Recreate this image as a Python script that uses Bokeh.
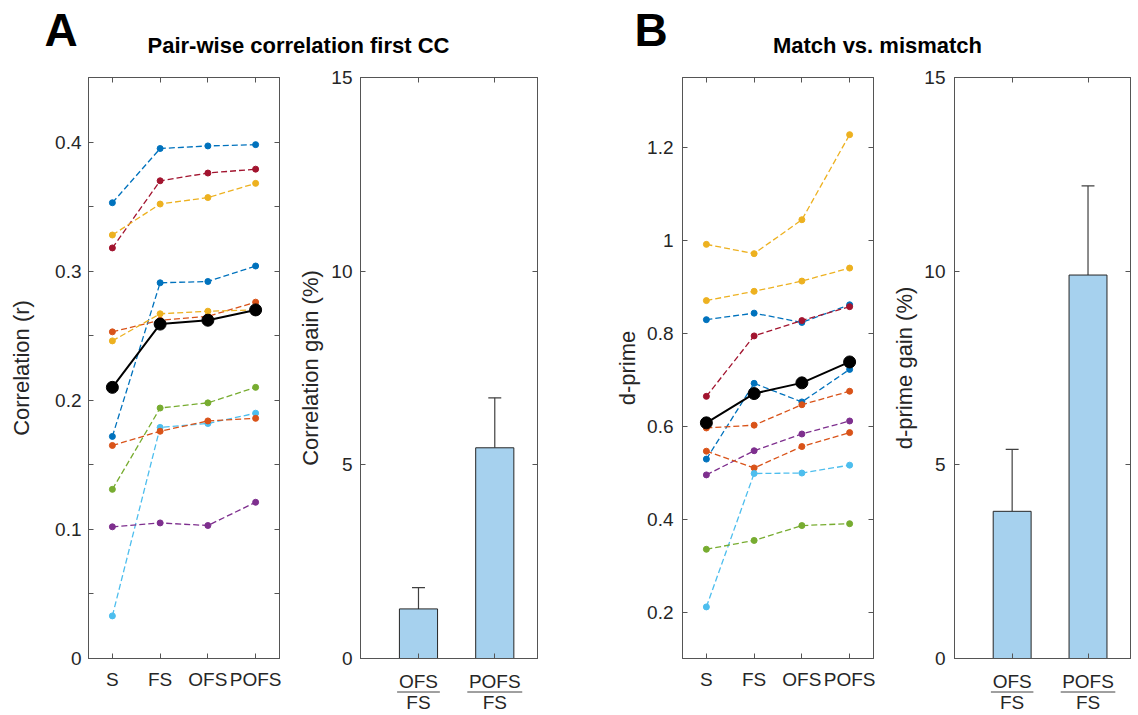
from bokeh.plotting import figure
from bokeh.layouts import row, column
from bokeh.models import Range1d, LinearAxis, FixedTicker
from bokeh.core.properties import value
from bokeh.embed import file_html
from bokeh.resources import INLINE

# ---------------- data ----------------
conditions = ["S", "FS", "OFS", "POFS"]
cond_x = [1, 2, 3, 4]

# Panel A: pair-wise correlation of first CC
corr_series = [
    [0.353, 0.395, 0.397, 0.398],
    [0.318, 0.370, 0.376, 0.379],
    [0.328, 0.352, 0.357, 0.368],
    [0.172, 0.291, 0.292, 0.304],
    [0.253, 0.262, 0.265, 0.276],
    [0.246, 0.267, 0.269, 0.270],
    [0.131, 0.194, 0.198, 0.210],
    [0.033, 0.179, 0.182, 0.190],
    [0.165, 0.176, 0.184, 0.186],
    [0.102, 0.105, 0.103, 0.121],
]
corr_mean = [0.210, 0.259, 0.262, 0.270]
corr_ticks = [0, 0.1, 0.2, 0.3, 0.4]
corr_tick_labels = ["0", "0.1", "0.2", "0.3", "0.4"]
corr_minor = [0.05, 0.15, 0.25, 0.35]

# Panel B: d-prime match vs mismatch
dp_series = [
    [0.991, 0.971, 1.044, 1.227],
    [0.870, 0.890, 0.912, 0.940],
    [0.829, 0.843, 0.823, 0.861],
    [0.664, 0.794, 0.827, 0.857],
    [0.529, 0.692, 0.652, 0.722],
    [0.596, 0.602, 0.646, 0.675],
    [0.495, 0.547, 0.583, 0.611],
    [0.546, 0.510, 0.556, 0.586],
    [0.211, 0.498, 0.499, 0.516],
    [0.335, 0.354, 0.386, 0.390],
]
dp_mean = [0.607, 0.670, 0.693, 0.738]
dp_ticks = [0.2, 0.4, 0.6, 0.8, 1.0, 1.2]
dp_tick_labels = ["0.2", "0.4", "0.6", "0.8", "1", "1.2"]

# Gain bars
bar_x = [1, 2]
bar_num = ["OFS", "POFS"]
bar_den = ["FS", "FS"]
corr_gain = [1.28, 5.44]
corr_gain_err = [0.55, 1.29]
dp_gain = [3.80, 9.90]
dp_gain_err = [1.60, 2.30]
gain_ticks = [0, 5, 10, 15]
gain_tick_labels = ["0", "5", "10", "15"]

# ---------------- styles ----------------
FONT = "Liberation Sans"
TXT = "#262626"
AX = "#555555"
TICK_FS = "19px"
corr_colors = ["#0072BD", "#A2142F", "#EDB120", "#0072BD", "#D95319",
               "#EDB120", "#77AC30", "#4DBEEE", "#D95319", "#7E2F8E"]
dp_colors = ["#EDB120", "#EDB120", "#0072BD", "#A2142F", "#0072BD",
             "#D95319", "#7E2F8E", "#D95319", "#4DBEEE", "#77AC30"]
BAR_FILL = "#A6D1EE"

ROW_H = 655      # height of the panel row
TOP_B = 19       # space above the axes boxes
FRAME_H = 581    # height of the axes boxes
BAR_BOTTOM = 12
LAB_H = ROW_H - TOP_B - FRAME_H - BAR_BOTTOM


def style_axis(ax, ticks, labels=None, minor=None, standoff=8, tick_len=5):
    ax.ticker = FixedTicker(ticks=ticks, minor_ticks=minor or [])
    ax.major_tick_in = tick_len
    ax.major_tick_out = 0
    ax.minor_tick_in = tick_len if minor else 0
    ax.minor_tick_out = 0
    ax.axis_line_color = AX
    ax.major_tick_line_color = AX
    ax.minor_tick_line_color = AX
    ax.axis_line_width = 1
    if labels is not None:
        ax.major_label_overrides = {t: l for t, l in zip(ticks, labels)}
        ax.major_label_text_font = FONT
        ax.major_label_text_font_size = TICK_FS
        ax.major_label_text_color = TXT
        ax.major_label_standoff = standoff
    else:
        ax.major_label_overrides = {t: "" for t in ticks}
        ax.major_label_text_font_size = "0px"
        ax.major_label_standoff = 0


def base_fig(width, height, xr, yr, bl, br, bt, bb):
    p = figure(width=width, height=height, x_range=xr, y_range=yr,
               output_backend="svg", toolbar_location=None,
               min_border_left=bl, min_border_right=br,
               min_border_top=bt, min_border_bottom=bb)
    p.xgrid.visible = False
    p.ygrid.visible = False
    p.outline_line_color = AX
    p.outline_line_width = 1
    p.background_fill_color = "white"
    p.border_fill_color = "white"
    return p


def set_ylabel(p, text, standoff):
    ax = p.yaxis[0]
    ax.axis_label = text
    ax.axis_label_text_font = FONT
    ax.axis_label_text_font_size = "22px"
    ax.axis_label_text_font_style = "normal"
    ax.axis_label_text_color = TXT
    ax.axis_label_standoff = standoff


def line_panel(width, bl, br, series, colors, mean, yr, ticks, labels, minor,
               ylabel, y_standoff, lab_standoff):
    p = base_fig(width, ROW_H, Range1d(0.5, 4.5), yr, bl, br, TOP_B,
                 ROW_H - TOP_B - FRAME_H)
    style_axis(p.xaxis[0], cond_x, conditions, standoff=10)
    style_axis(p.yaxis[0], ticks, labels, minor=minor, standoff=lab_standoff)
    top = LinearAxis()
    style_axis(top, cond_x)
    p.add_layout(top, "above")
    right = LinearAxis()
    style_axis(right, ticks, minor=minor)
    p.add_layout(right, "right")
    set_ylabel(p, ylabel, y_standoff)
    for vals, c in zip(series, colors):
        p.line(cond_x, vals, line_color=c, line_width=1.3, line_dash="6 3")
        p.scatter(cond_x, vals, size=6, fill_color=c, line_color=c)
    p.line(cond_x, mean, line_color="black", line_width=2)
    p.scatter(cond_x, mean, size=12, fill_color="black", line_color="black")
    return p


def bar_panel(width, bl, br, vals, errs, ylabel, y_standoff, lab_standoff):
    xr = Range1d(0.24, 2.56)
    p = base_fig(width, TOP_B + FRAME_H + BAR_BOTTOM, xr, Range1d(0, 15),
                 bl, br, TOP_B, BAR_BOTTOM)
    style_axis(p.xaxis[0], bar_x)
    style_axis(p.yaxis[0], gain_ticks, gain_tick_labels, standoff=lab_standoff)
    top = LinearAxis()
    style_axis(top, bar_x)
    p.add_layout(top, "above")
    right = LinearAxis()
    style_axis(right, gain_ticks)
    p.add_layout(right, "right")
    set_ylabel(p, ylabel, y_standoff)
    tops = [v + e for v, e in zip(vals, errs)]
    p.segment(x0=bar_x, y0=vals, x1=bar_x, y1=tops, line_color="#404040", line_width=1.2)
    p.segment(x0=[x - 0.085 for x in bar_x], y0=tops,
              x1=[x + 0.085 for x in bar_x], y1=tops,
              line_color="#404040", line_width=1.2)
    p.vbar(x=bar_x, top=vals, bottom=0, width=0.5, fill_color=BAR_FILL,
           line_color="#262626", line_width=1)
    # fraction-style category labels under the bars
    lab = figure(width=width, height=LAB_H, x_range=xr, y_range=Range1d(LAB_H, 0),
                 output_backend="svg", toolbar_location=None,
                 x_axis_type=None, y_axis_type=None,
                 min_border_left=bl, min_border_right=br,
                 min_border_top=0, min_border_bottom=0)
    lab.xgrid.visible = False
    lab.ygrid.visible = False
    lab.outline_line_color = None
    lab.text(x=bar_x, y=[11, 11], text=bar_num, text_align="center",
             text_baseline="middle", text_font=value(FONT),
             text_font_size=TICK_FS, text_color=TXT)
    lab.text(x=bar_x, y=[32, 32], text=bar_den, text_align="center",
             text_baseline="middle", text_font=value(FONT),
             text_font_size=TICK_FS, text_color=TXT)
    hw = [0.28, 0.36]
    lab.segment(x0=[x - h for x, h in zip(bar_x, hw)], y0=[21.5, 21.5],
                x1=[x + h for x, h in zip(bar_x, hw)], y1=[21.5, 21.5],
                line_color="#404040", line_width=1)
    return column(p, lab, spacing=0)


figA1 = line_panel(290, 88, 11, corr_series, corr_colors, corr_mean,
                   Range1d(0, 0.45), corr_ticks, corr_tick_labels, corr_minor,
                   "Correlation (r)", 18, 7)
figA2 = bar_panel(310, 70, 63, corr_gain, corr_gain_err,
                  "Correlation gain (%)", 5, 8)
figB1 = line_panel(285, 82, 12, dp_series, dp_colors, dp_mean,
                   Range1d(0.1, 1.35), dp_ticks, dp_tick_labels, None,
                   "d-prime", 4, 9)
figB2 = bar_panel(251, 69, 6, dp_gain, dp_gain_err,
                  "d-prime gain (%)", 4, 9)

# header strip with panel letters and titles
HEAD_H = 58
head = figure(width=1136, height=HEAD_H, x_range=Range1d(0, 1136),
              y_range=Range1d(HEAD_H, 0),
              output_backend="svg", toolbar_location=None,
              x_axis_type=None, y_axis_type=None,
              min_border_left=0, min_border_right=0, min_border_top=0, min_border_bottom=0)
head.xgrid.visible = False
head.ygrid.visible = False
head.outline_line_color = None
head.text(x=[44, 634], y=[29.5, 29.5], text=["A", "B"], text_align="left",
          text_baseline="middle", text_font=value(FONT), text_font_size="46px",
          text_font_style="bold", text_color="black")
head.text(x=[298, 877], y=[44.5, 44.5],
          text=["Pair-wise correlation first CC", "Match vs. mismatch"],
          text_align="center", text_baseline="middle", text_font=value(FONT),
          text_font_size="22px", text_font_style="bold", text_color="black")

layout = column(head, row(figA1, figA2, figB1, figB2, spacing=0), spacing=0)

open("out.html", "w").write(file_html(layout, INLINE))
